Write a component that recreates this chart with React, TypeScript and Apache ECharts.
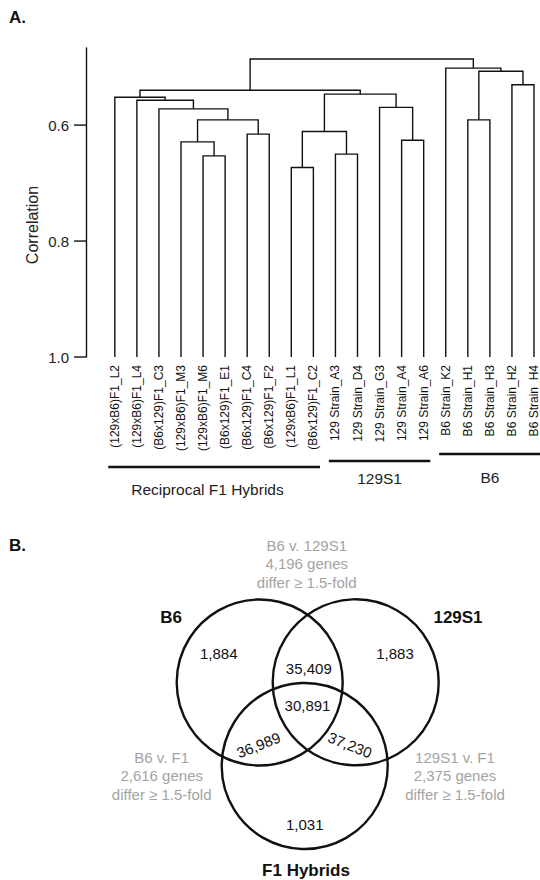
import React, { useEffect, useRef } from 'react';
import * as echarts from 'echarts';

// ---------- Panel A data: hierarchical clustering ----------
const leafLabels = [
  '(129xB6)F1_L2', '(129xB6)F1_L4', '(B6x129)F1_C3', '(129xB6)F1_M3', '(129xB6)F1_M6',
  '(B6x129)F1_E1', '(B6x129)F1_C4', '(B6x129)F1_F2', '(129xB6)F1_L1', '(B6x129)F1_C2',
  '129 Strain_A3', '129 Strain_D4', '129 Strain_G3', '129 Strain_A4', '129 Strain_A6',
  'B6 Strain_K2', 'B6 Strain_H1', 'B6 Strain_H3', 'B6 Strain_H2', 'B6 Strain_H4',
];
// merges: node ids 0..19 are leaves, merged nodes get ids 20, 21, ...
const mergeLeft = [4, 3, 6, 21, 2, 1, 0, 8, 10, 27, 13, 12, 29, 26, 16, 18, 34, 15, 33];
const mergeRight = [5, 20, 7, 22, 23, 24, 25, 9, 11, 28, 14, 30, 31, 32, 17, 19, 35, 36, 37];
const mergeHeight = [0.653, 0.629, 0.6155, 0.591, 0.572, 0.557, 0.552, 0.673, 0.65, 0.611, 0.626, 0.5695, 0.5466, 0.54, 0.591, 0.5305, 0.507, 0.5017, 0.486];
const yTickValues = [0.6, 0.8, 1.0];

const groupNames = ['Reciprocal F1 Hybrids', '129S1', 'B6'];
const groupFirstLeaf = [0, 10, 15];
const groupLastLeaf = [9, 14, 19];

// ---------- Panel B data: Venn diagram ----------
const vennSets = ['B6', '129S1', 'F1 Hybrids'];
const vennRegionNames = ['B6 only', '129S1 only', 'B6 & 129S1', 'all three', 'B6 & F1', '129S1 & F1', 'F1 only'];
const vennCounts = [1884, 1883, 35409, 30891, 36989, 37230, 1031];
const comparisonNames = ['B6 v. 129S1', 'B6 v. F1', '129S1 v. F1'];
const comparisonGenes = [4196, 2616, 2375];
const foldThreshold = 1.5;

// ---------- layout (positions / sizes) ----------
const FONT = '"Liberation Sans", Arial, Helvetica, sans-serif';
const X_MIN = -1.306;
const groupLineOffset = [110, 104, 97];
const groupLabelOffset = [132, 121, 120];
const groupLabelShift = [-0.3, 0, 0];
const vennCircleCenters = [[259.7, 682.5], [355.7, 682.3], [304.7, 766]];
const vennRadius = 83;
const vennSetLabelPos = [[171, 617], [458, 617], [306, 870]];
const vennCountPos = [[218.7, 653.5], [395, 653.5], [308.8, 668], [307.5, 705], [258.5, 745], [350, 745]];
const vennCountPosLast = [304.7, 824];
const vennCountRot = [0, 0, 0, 0, 0.38, -0.38, 0];
const comparisonPos = [[306.7, 545], [161.7, 757], [455, 757]];

const fmt = (n: number) => n.toLocaleString('en-US');

export default function App() {
  const ref = useRef<HTMLDivElement>(null);
  useEffect(() => {
    if (!ref.current) return;
    const chart = echarts.init(ref.current, null, { renderer: 'svg' });

    // build dendrogram geometry from merges
    const nodeX: number[] = leafLabels.map((_, i) => i);
    const nodeH: number[] = leafLabels.map(() => 1.0);
    const dendroData: number[][] = [];
    mergeLeft.forEach((a, k) => {
      const b = mergeRight[k];
      const h = mergeHeight[k];
      dendroData.push([nodeX[a], nodeH[a], nodeX[b], nodeH[b], h]);
      nodeX.push((nodeX[a] + nodeX[b]) / 2);
      nodeH.push(h);
    });

    const vennPos = [...vennCountPos, vennCountPosLast];

    const option: any = {
      animation: false,
      title: [
        { text: 'A.', left: 9, top: 9, padding: 0, textStyle: { fontSize: 17, fontWeight: 'bold', color: '#111', fontFamily: FONT } },
        { text: 'B.', left: 9, top: 537, padding: 0, textStyle: { fontSize: 17, fontWeight: 'bold', color: '#111', fontFamily: FONT } },
      ],
      graphic: [
        {
          type: 'text', x: 32, y: 225, rotation: Math.PI / 2,
          style: { text: 'Correlation', fontSize: 16, fontFamily: FONT, fill: '#222', align: 'center', verticalAlign: 'middle' },
        },
      ],
      grid: [
        { left: 86, top: 48, width: 454, height: 309 },
        { left: 0, top: 0, width: 540, height: 880 },
      ],
      xAxis: [
        {
          gridIndex: 0, type: 'value', min: X_MIN, max: X_MIN + 454 / 22.2,
          axisLine: { show: false, onZero: false }, axisTick: { show: false }, splitLine: { show: false },
          axisLabel: {
            customValues: leafLabels.map((_, i) => i),
            formatter: (v: number) => leafLabels[Math.round(v)] ?? '',
            rotate: 90, fontSize: 12, color: '#111', fontFamily: FONT, margin: 8,
          },
        },
        { gridIndex: 1, type: 'value', min: 0, max: 540, show: false },
      ],
      yAxis: [
        {
          gridIndex: 0, type: 'value', inverse: true, min: 0.467, max: 1.0,
          axisLine: { show: true, onZero: false, lineStyle: { color: '#111', width: 1.4 } },
          axisTick: { show: false },
          axisLabel: {
            customValues: yTickValues, formatter: (v: number) => v.toFixed(1),
            fontSize: 15, color: '#222', fontFamily: FONT, margin: 17,
          },
          splitLine: { show: false },
        },
        { gridIndex: 1, type: 'value', min: 0, max: 880, inverse: true, show: false },
      ],
      series: [
        {
          type: 'custom', xAxisIndex: 0, yAxisIndex: 0, silent: true,
          data: dendroData,
          renderItem: (params: any, api: any) => {
            const xl = api.value(0), hl = api.value(1), xr = api.value(2), hr = api.value(3), h = api.value(4);
            return {
              type: 'polyline',
              shape: { points: [api.coord([xl, hl]), api.coord([xl, h]), api.coord([xr, h]), api.coord([xr, hr])] },
              style: { stroke: '#111', lineWidth: 1.4, fill: 'none' },
            };
          },
        },
        {
          // y-axis tick marks at the labelled values
          type: 'custom', xAxisIndex: 0, yAxisIndex: 0, silent: true,
          data: yTickValues.map((v) => [X_MIN, v]),
          renderItem: (params: any, api: any) => {
            const p = api.coord([api.value(0), api.value(1)]);
            return {
              type: 'line',
              shape: { x1: p[0] - 12, y1: p[1], x2: p[0], y2: p[1] },
              style: { stroke: '#111', lineWidth: 1.4 },
            };
          },
        },
        {
          type: 'custom', xAxisIndex: 0, yAxisIndex: 0, silent: true,
          data: groupNames.map((_, i) => [groupFirstLeaf[i], groupLastLeaf[i]]),
          renderItem: (params: any, api: any) => {
            const i = params.dataIndex;
            const a = api.coord([api.value(0) - 0.3, 1.0]);
            const b = api.coord([api.value(1) + 0.3, 1.0]);
            const mid = api.coord([(api.value(0) + api.value(1)) / 2 + groupLabelShift[i], 1.0]);
            return {
              type: 'group',
              children: [
                { type: 'line', shape: { x1: a[0], y1: a[1] + groupLineOffset[i], x2: b[0], y2: b[1] + groupLineOffset[i] }, style: { stroke: '#111', lineWidth: 2.4 } },
                { type: 'text', x: mid[0], y: mid[1] + groupLabelOffset[i], style: { text: groupNames[i], fontSize: 15.5, fontFamily: FONT, fill: '#222', align: 'center', verticalAlign: 'middle' } },
              ],
            };
          },
        },
        {
          type: 'custom', xAxisIndex: 1, yAxisIndex: 1, silent: true,
          data: vennSets.map((_, i) => vennCircleCenters[i]),
          renderItem: (params: any, api: any) => {
            const i = params.dataIndex;
            const c = api.coord([api.value(0), api.value(1)]);
            const r = api.size([vennRadius, 0])[0];
            const lp = api.coord(vennSetLabelPos[i]);
            return {
              type: 'group',
              children: [
                { type: 'circle', shape: { cx: c[0], cy: c[1], r }, style: { fill: 'none', stroke: '#111', lineWidth: 2.4 } },
                { type: 'text', x: lp[0], y: lp[1], style: { text: vennSets[i], fontSize: 17, fontWeight: 'bold', fontFamily: FONT, fill: '#111', align: 'center', verticalAlign: 'middle' } },
              ],
            };
          },
        },
        {
          type: 'custom', xAxisIndex: 1, yAxisIndex: 1, silent: true,
          name: 'regions',
          data: vennCounts.map((v, i) => ({ name: vennRegionNames[i], value: [vennPos[i][0], vennPos[i][1], v] })),
          renderItem: (params: any, api: any) => {
            const i = params.dataIndex;
            const p = api.coord([api.value(0), api.value(1)]);
            return {
              type: 'text', x: p[0], y: p[1], rotation: vennCountRot[i],
              style: { text: fmt(api.value(2)), fontSize: 15, fontFamily: FONT, fill: '#111', align: 'center', verticalAlign: 'middle' },
            };
          },
        },
        {
          type: 'custom', xAxisIndex: 1, yAxisIndex: 1, silent: true,
          data: comparisonNames.map((_, i) => [comparisonPos[i][0], comparisonPos[i][1], comparisonGenes[i]]),
          renderItem: (params: any, api: any) => {
            const i = params.dataIndex;
            const p = api.coord([api.value(0), api.value(1)]);
            return {
              type: 'text', x: p[0], y: p[1] - 9,
              style: {
                text: `${comparisonNames[i]}\n${fmt(api.value(2))} genes\ndiffer \u2265 ${foldThreshold}-fold`,
                fontSize: 15, lineHeight: 18.5, fontFamily: FONT, fill: '#a3a3a3', align: 'center', verticalAlign: 'top',
              },
            };
          },
        },
      ],
    };
    chart.setOption(option);
    return () => chart.dispose();
  }, []);
  return <div ref={ref} style={{ position: 'absolute', left: 0, top: 0, width: 540, height: 880, background: '#fff' }} />;
}
